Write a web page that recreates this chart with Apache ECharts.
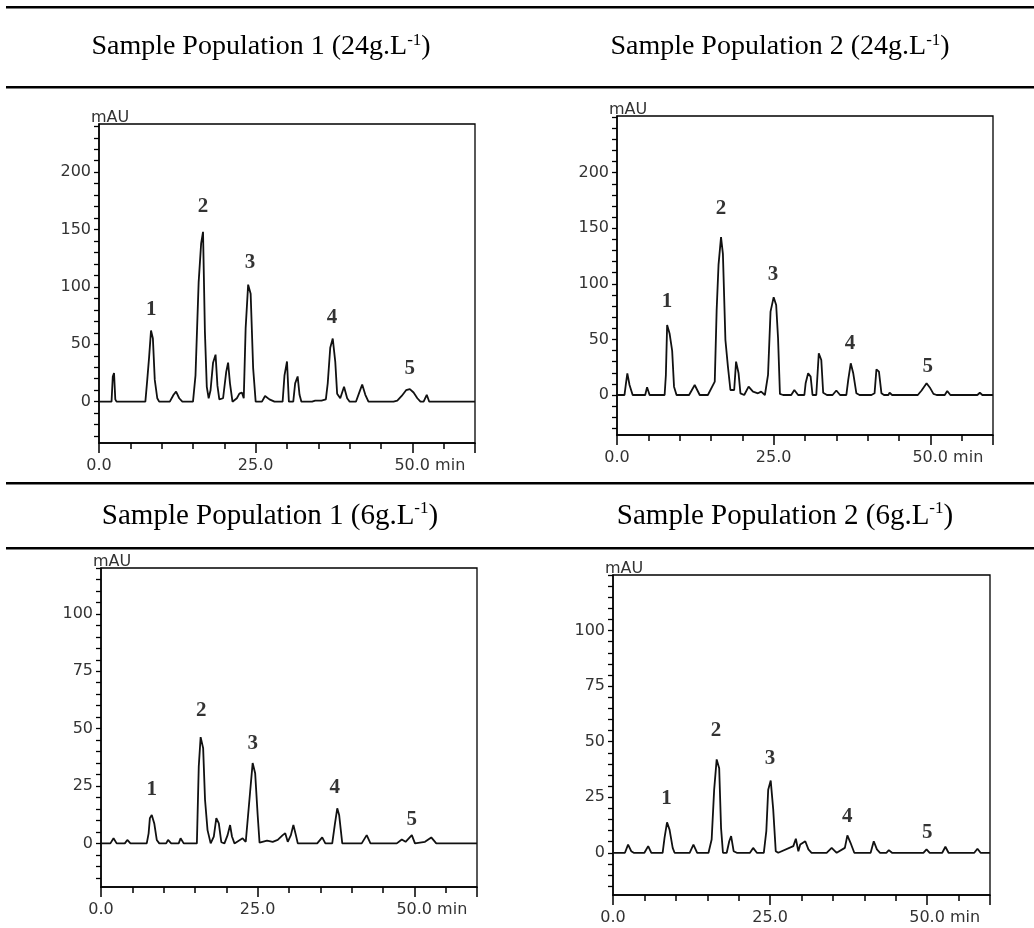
<!DOCTYPE html>
<html><head><meta charset="utf-8">
<script src="https://cdn.jsdelivr.net/npm/echarts@6/dist/echarts.min.js"></script>
<style>html,body{margin:0;padding:0;background:#fff}#c{width:1034px;height:928px}</style>
</head><body><div id="c"></div>
<script>
// ---------------- DATA ----------------
const titles = [
  ['Sample Population 1 (24g.L', '-1', ')'],
  ['Sample Population 2 (24g.L', '-1', ')'],
  ['Sample Population 1 (6g.L', '-1', ')'],
  ['Sample Population 2 (6g.L', '-1', ')']
];
const xTickLabels = [0, 25, 50];
const yTickLabelsHigh = [0, 50, 100, 150, 200];
const yTickLabelsLow = [0, 25, 50, 75, 100];
const peakNames = ['1', '2', '3', '4', '5'];

// Panel 1: Sample Population 1 (24 g/L)
const timeP1 = [0,2.0,2.2,2.4,2.6,2.8,5.9,6.2,6.6,7.4,7.7,8.0,8.3,8.6,8.9,9.3,9.6,11.3,11.9,12.3,12.8,13.3,15.0,15.4,15.9,16.3,16.6,16.9,17.2,17.5,17.8,18.2,18.6,18.9,19.2,19.8,20.3,20.6,20.9,21.3,22.0,22.4,22.8,23.1,23.4,23.8,24.2,24.6,25.0,26.0,26.5,27.2,28.0,29.3,29.6,30.0,30.3,31.0,31.3,31.7,32.0,32.3,34.0,34.5,35.5,36.2,36.5,36.9,37.3,37.7,38.0,38.5,39.1,39.6,40.0,41.0,41.6,42.0,42.5,43.0,47.0,47.6,48.3,49.0,49.6,50.2,50.8,51.3,51.8,52.3,52.7,60];
const signalP1 = [0,0,22,25,2,0,0,1,0,0,19,39,62,55,19,3,0,0,6,8.8,3,0,0,23,104,138,148,61,13,3,10,34,41,14,2,3,26,34,16,0,3,7,8,3,64,102,94,29,0,0,5,2,0,0,23,35,0,0,16,22,6,0,0,1,1,2,16,47,55,35,7,3,13,3,0,0,9,15,6,0,0,1,5,10,11,8,3,0,0,6,0,0];
const peakTimeP1 = [8.35, 16.6, 24.1, 37.2, 49.6];
const peakLabelYP1 = [80, 170, 121, 73, 29];

// Panel 2: Sample Population 2 (24 g/L)
const timeP2 = [0,1.2,1.4,1.65,2.0,2.5,4.5,4.8,5.2,7.6,7.8,8.0,8.4,8.8,9.1,9.5,11.5,12.4,13.2,14.5,15.6,15.9,16.2,16.6,16.9,17.3,17.7,18.1,18.7,19.0,19.4,19.7,20.3,21.0,21.7,22.5,23.0,23.6,24.1,24.5,25.0,25.4,25.7,26.0,26.5,27.8,28.3,28.9,29.9,30.1,30.5,30.9,31.2,31.8,32.2,32.6,32.9,33.5,34.4,35.0,35.6,36.6,36.9,37.3,37.7,38.2,38.7,40.6,41.1,41.4,41.8,42.2,42.6,43.3,43.5,43.9,48.0,48.6,49.4,50.0,50.5,51.0,52.3,52.7,53.2,57.5,57.9,58.3,60];
const signalP2 = [0,0,9,19.5,9,0,0,7,0,0,18,63,55,40,7.5,0,0,9,0,0,12,76,117,142,127,49.5,25.5,4.5,4.5,30,19.5,1.5,0,7.5,3,1.5,3,0,18,75,88,81,51,1,0,0,4.5,0,0,10.5,19.5,16.5,0,0,37.5,31.5,2,0,0,4,0,0,13.5,28.5,19.5,1.5,0,0,1.5,23,21,1.5,0,0,2,0,0,4,10.5,6,1,0,0,3.6,0,0,2,0,0];
const peakTimeP2 = [7.97, 16.6, 24.9, 37.2, 49.6];
const peakLabelYP2 = [84, 168, 108, 46, 25.5];

// Panel 3: Sample Population 1 (6 g/L)
const timeP3 = [0,1.5,2.0,2.5,3.8,4.2,4.7,7.3,7.6,7.8,8.1,8.5,8.9,9.3,10.4,10.7,11.2,12.4,12.7,13.2,15.3,15.6,15.9,16.3,16.6,17.0,17.5,18.0,18.4,18.8,19.2,19.7,20.2,20.6,20.9,21.3,22.6,23.1,23.8,24.2,24.6,25.0,25.3,26.5,27.4,28.2,29.0,29.4,29.8,30.3,30.7,31.1,31.4,34.5,35.3,35.8,36.9,37.3,37.7,38.0,38.5,41.6,42.4,43.0,47.2,48.0,48.6,49.6,50.1,51.7,52.7,53.5,60];
const signalP3 = [0,0,2.2,0,0,1.5,0,0,4.4,11,12.4,8.7,1.5,0,0,1.5,0,0,2.2,0,0,33.5,46.3,41.5,19,5.8,0,3,11,8.7,0.5,0,3.6,8,3,0,2.2,0.7,22.6,35,30.6,12.4,0.3,1.2,0.7,1.5,3.6,4.4,0.7,3.6,8,3.6,0,0,2.6,0,0,8,15.3,12.4,0,0,3.6,0,0,1.7,0.7,3.6,0,0.7,2.6,0,0];
const peakTimeP3 = [8.1, 16.0, 24.2, 37.3, 49.6];
const peakLabelYP3 = [23.6, 57.8, 43.7, 24.5, 10.2];

// Panel 4: Sample Population 2 (6 g/L)
const timeP4 = [0,1.9,2.4,2.9,3.3,5.0,5.6,6.1,7.9,8.2,8.6,9.0,9.5,9.8,12.2,12.8,13.4,15.2,15.7,16.1,16.5,16.9,17.2,17.5,18.1,18.5,18.8,19.2,19.7,21.8,22.3,22.9,24.0,24.4,24.7,25.1,25.5,25.9,26.3,28.7,29.1,29.5,29.8,30.6,31.1,31.6,34.0,34.8,35.6,36.9,37.3,37.8,38.4,41.0,41.5,42.0,42.5,43.5,43.9,44.4,49.4,49.9,50.4,52.4,52.9,53.4,57.5,58.0,58.5,60];
const signalP4 = [0,0,3.7,0.7,0,0,3,0,0,6.7,13.7,10.4,2.2,0,0,3.7,0,0,6,28.4,42,38,11,0,0,5.2,7.5,0.7,0,0,2.2,0,0,9.7,28.4,32.5,19.4,0.7,0,3,6.3,0.7,3.7,5.2,1.5,0,0,2.2,0,2.2,7.8,4.5,0,0,5.2,1.5,0,0,1.2,0,0,1.5,0,0,2.7,0,0,1.8,0,0];
const peakTimeP4 = [8.5, 16.4, 25.0, 37.3, 50.0];
const peakLabelYP4 = [24.6, 55.2, 42.5, 16.4, 9];

// ---------------- LAYOUT ----------------
const panels = [
  {grid:{left:99, top:124, width:376, height:319}, t:timeP1, s:signalP1, pt:peakTimeP1, pv:peakLabelYP1, yMin:-36, yMax:242, yLabels:yTickLabelsHigh, yStep:10},
  {grid:{left:617, top:116, width:376, height:319}, t:timeP2, s:signalP2, pt:peakTimeP2, pv:peakLabelYP2, yMin:-36, yMax:251, yLabels:yTickLabelsHigh, yStep:10},
  {grid:{left:101, top:568, width:376, height:319}, t:timeP3, s:signalP3, pt:peakTimeP3, pv:peakLabelYP3, yMin:-19, yMax:120, yLabels:yTickLabelsLow, yStep:5},
  {grid:{left:613, top:575, width:377, height:320}, t:timeP4, s:signalP4, pt:peakTimeP4, pv:peakLabelYP4, yMin:-19, yMax:125, yLabels:yTickLabelsLow, yStep:5}
];
const titlePos = [[261, 47, 28], [780, 47, 28], [270, 516, 29], [785, 516, 29]];

const axisFont = {fontFamily:'DejaVu Sans', fontSize:16, color:'#333'};
const black = {color:'#000', width:1.5};

const option = {animation:false, backgroundColor:'#fff', grid:[], xAxis:[], yAxis:[], series:[], graphic:[]};

panels.forEach((p, i) => {
  option.grid.push(Object.assign({show:true, borderColor:'#000', borderWidth:1.3, backgroundColor:'transparent', containLabel:false}, p.grid));
  // major x axis with labels
  option.xAxis.push({
    type:'value', gridIndex:i, min:0, max:60, position:'bottom',
    axisLine:{show:true, onZero:false, lineStyle:black},
    axisTick:{show:true, length:10, customValues:[0,25,50,60], lineStyle:black},
    axisLabel:Object.assign({show:true, customValues:xTickLabels, margin:15,
      formatter:v => v === 50 ? '{p| }{n|50.0 min}' : '{n|' + v.toFixed(1) + '}',
      rich:{p:{width:35}, n:Object.assign({}, axisFont)}}, axisFont),
    splitLine:{show:false}
  });
  // minor x ticks
  const minor = [];
  for (let v = 5; v < 60; v += 5) if (v % 25 !== 0) minor.push(v);
  option.xAxis.push({
    type:'value', gridIndex:i, min:0, max:60, position:'bottom',
    axisLine:{show:false, onZero:false}, axisLabel:{show:false}, splitLine:{show:false},
    axisTick:{show:true, length:6, customValues:minor, lineStyle:black}
  });
  const yt = [];
  for (let v = Math.ceil(p.yMin / p.yStep) * p.yStep; v <= p.yMax; v += p.yStep) yt.push(v);
  option.yAxis.push({
    type:'value', gridIndex:i, min:p.yMin, max:p.yMax,
    name:'mAU', nameLocation:'end', nameGap:-2,
    nameTextStyle:Object.assign({align:'center', padding:[0,0,0,22]}, axisFont),
    axisLine:{show:true, onZero:false, lineStyle:black},
    axisTick:{show:true, length:5, customValues:yt, lineStyle:{color:'#000', width:1.3}},
    axisLabel:Object.assign({show:true, customValues:p.yLabels, margin:8}, axisFont),
    splitLine:{show:false}
  });
  option.series.push({
    type:'line', xAxisIndex:2*i, yAxisIndex:i, showSymbol:false, symbol:'none',
    lineStyle:{color:'#111', width:1.8}, clip:true,
    data:p.t.map((t, k) => [t, p.s[k]])
  });
  option.series.push({
    type:'scatter', xAxisIndex:2*i, yAxisIndex:i, symbolSize:1,
    itemStyle:{color:'rgba(0,0,0,0)'},
    label:{show:true, position:'inside', formatter:'{b}', fontFamily:'Liberation Serif', fontWeight:'bold', fontSize:21, color:'#000'},
    data:p.pt.map((t, k) => ({name:peakNames[k], value:[t, p.pv[k]]}))
  });
});

titles.forEach((tt, i) => {
  const [x, y, fs] = titlePos[i];
  option.graphic.push({
    type:'text', x:x, y:y,
    style:{
      text:'{m|' + tt[0] + '}{s|' + tt[1] + '}{m|' + tt[2] + '}',
      align:'center', verticalAlign:'middle',
      rich:{
        m:{fontFamily:'Liberation Serif', fontSize:fs, fill:'#000', lineHeight:fs + 2},
        s:{fontFamily:'Liberation Serif', fontSize:Math.round(fs*0.6), fill:'#000', verticalAlign:'top', lineHeight:fs + 2}
      }
    }
  });
});
[7, 87, 483, 548].forEach(y => {
  option.graphic.push({type:'rect', shape:{x:6, y:y - 1, width:1028, height:2.5}, style:{fill:'#000'}});
});

const chart = echarts.init(document.getElementById('c'), null, {renderer:'canvas'});
chart.setOption(option);
</script>
</body></html>
